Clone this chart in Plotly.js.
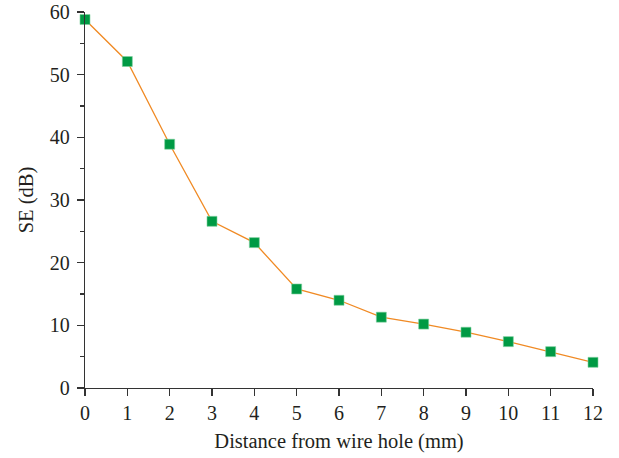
<!DOCTYPE html>
<html>
<head>
<meta charset="utf-8">
<script src="https://cdn.plot.ly/plotly-3.0.1.min.js"></script>
<style>html,body{margin:0;padding:0;background:#fff;}#chart{width:619px;height:458px;}</style>
</head>
<body>
<div id="chart"></div>
<script>
const distance = [0, 1, 2, 3, 4, 5, 6, 7, 8, 9, 10, 11, 12];
const se = [58.8, 52.1, 38.9, 26.6, 23.2, 15.8, 14.0, 11.3, 10.2, 8.9, 7.4, 5.8, 4.1];
const xTicks = [0, 1, 2, 3, 4, 5, 6, 7, 8, 9, 10, 11, 12];
const yTicks = [0, 10, 20, 30, 40, 50, 60];

const tickFont = {family: "Liberation Serif, DejaVu Serif, serif", size: 20, color: "#231f20"};
const titleFont = {family: "Liberation Serif, DejaVu Serif, serif", size: 20.5, color: "#231f20"};

Plotly.newPlot("chart", [{
  x: distance, y: se, type: "scatter", mode: "lines+markers",
  line: {color: "#f08a24", width: 1.3},
  marker: {symbol: "square", size: 10, color: "#009a44", line: {color: "#7fd0a0", width: 0.6}},
  cliponaxis: false
}], {
  width: 619, height: 458,
  margin: {l: 85, r: 26, t: 12, b: 70},
  paper_bgcolor: "#fff", plot_bgcolor: "#fff",
  font: tickFont,
  showlegend: false,
  xaxis: {
    range: [0, 12], tickvals: xTicks, ticktext: xTicks.map(String),
    showgrid: false, zeroline: false, showline: true, linecolor: "#333", linewidth: 1.3,
    ticks: "outside", ticklen: 7, tickwidth: 1.3, tickcolor: "#333",
    tickfont: tickFont,
    title: {text: "Distance from wire hole (mm)", font: titleFont, standoff: 10}
  },
  yaxis: {
    range: [0, 60], tickvals: yTicks, ticktext: yTicks.map(String),
    showgrid: false, zeroline: false, showline: true, linecolor: "#333", linewidth: 1.3,
    ticks: "outside", ticklen: 7, tickwidth: 1.3, tickcolor: "#333",
    minor: {dtick: 5, ticks: "outside", ticklen: 4, tickwidth: 1.3, tickcolor: "#333", showgrid: false},
    tickfont: tickFont, ticklabelstandoff: 3,
    title: {text: "SE (dB)", font: titleFont, standoff: 10}
  }
}, {displayModeBar: false, staticPlot: true});
</script>
</body>
</html>
